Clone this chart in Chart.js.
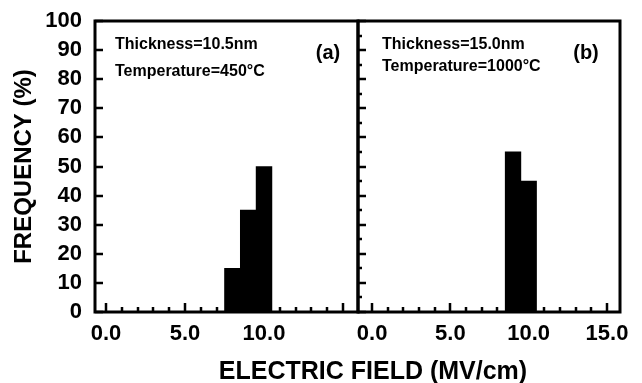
<!DOCTYPE html>
<html>
<head>
<meta charset="utf-8">
<script src="https://cdn.jsdelivr.net/npm/chart.js@4.4.1/dist/chart.umd.min.js"></script>
<style>
  body { margin: 0; background: #fff; }
  #wrap { position: relative; width: 642px; height: 383px; }
  canvas { position: absolute; left: 0; top: 0; }
  #xtitle {
    position: absolute; left: 373px; top: 356px; transform: translateX(-50%);
    font: bold 25px "Liberation Sans", Arial, sans-serif; white-space: nowrap; color: #000;
  }
</style>
</head>
<body>
<div id="wrap">
  <canvas id="chartA" width="642" height="383"></canvas>
  <canvas id="chartB" width="642" height="383"></canvas>
  <div id="xtitle">ELECTRIC FIELD (MV/cm)</div>
</div>
<script>
/* =========================
   DATI
========================= */
const fieldA = [8, 9, 10];
const freqA = [15, 35, 50];
const fieldB = [9, 10];
const freqB = [55, 45];
const xTickLabelsA = [0, 5, 10];
const xTickLabelsB = [0, 5, 10, 15];
const notesA = ["Thickness=10.5nm", "Temperature=450°C", "(a)"];
const notesB = ["Thickness=15.0nm", "Temperature=1000°C", "(b)"];

const FONT = '"Liberation Sans", Arial, sans-serif';

/* =========================
   PLUGIN: cornice, tacche interne, note
========================= */
function framePlugin(opts) {
  return {
    id: "frame",
    afterDraw(chart) {
      const { ctx, chartArea: a, scales } = chart;
      const x = scales.x, y = scales.y;
      ctx.save();
      ctx.strokeStyle = "#000";
      ctx.lineWidth = 3;
      ctx.strokeRect(a.left, a.top, a.right - a.left, a.bottom - a.top);

      // tacche interne
      ctx.lineWidth = 2.5;
      ctx.beginPath();
      for (let v = 0; v <= 100; v += 5) {
        const major = v % 10 === 0;
        if (!major && !opts.yMinor) continue;
        const py = Math.round(y.getPixelForValue(v));
        ctx.moveTo(a.left, py);
        ctx.lineTo(a.left + (major ? 8 : 4), py);
      }
      for (let v = 0; v <= 15; v++) {
        const px = Math.round(x.getPixelForValue(v));
        ctx.moveTo(px, a.bottom);
        ctx.lineTo(px, a.bottom - (v % 5 === 0 ? 9 : 5));
      }
      ctx.stroke();

      // note
      ctx.fillStyle = "#000";
      ctx.textBaseline = "middle";
      ctx.textAlign = "left";
      ctx.font = "bold 16px " + FONT;
      ctx.fillText(opts.notes[0], a.left + opts.nx, 45);
      ctx.fillText(opts.notes[1], a.left + opts.nx, opts.ty);
      ctx.font = "bold 20px " + FONT;
      ctx.textAlign = "center";
      ctx.fillText(opts.notes[2], a.left + opts.lx, 53);
      ctx.restore();
    }
  };
}

function makeChart(id, fields, freqs, xTicks, xMin, xMax, pad, showY, plugOpts) {
  return new Chart(document.getElementById(id), {
    type: "bar",
    data: {
      datasets: [{
        data: fields.map((f, i) => ({ x: f, y: freqs[i] })),
        backgroundColor: "#000",
        borderWidth: 0,
        barPercentage: 1,
        categoryPercentage: 1
      }]
    },
    options: {
      responsive: false,
      animation: false,
      devicePixelRatio: 1,
      layout: { padding: pad },
      plugins: { legend: { display: false }, tooltip: { enabled: false } },
      scales: {
        x: {
          type: "linear",
          offset: false,
          min: xMin,
          max: xMax,
          grid: { display: false, drawTicks: false },
          border: { display: false },
          afterBuildTicks: s => { s.ticks = xTicks.map(v => ({ value: v })); },
          afterFit: s => { s.height = 40; },
          ticks: {
            color: "#000",
            padding: 9,
            maxRotation: 0,
            autoSkip: false,
            font: { family: FONT, size: 22, weight: "bold" },
            callback: v => Number(v).toFixed(1)
          }
        },
        y: {
          display: showY,
          min: 0,
          max: 100,
          grid: { display: false, drawTicks: false },
          border: { display: false },
          afterFit: s => { s.width = showY ? 95 : 0; },
          ticks: {
            stepSize: 10,
            autoSkip: false,
            color: "#000",
            padding: 13,
            font: { family: FONT, size: 22, weight: "bold", lineHeight: 0.6 }
          },
          title: {
            display: true,
            text: "FREQUENCY (%)",
            color: "#000",
            padding: { top: 10 },
            font: { family: FONT, size: 24, weight: "bold" }
          }
        }
      }
    },
    plugins: [framePlugin(plugOpts)]
  });
}

/* =========================
   GRAFICI
========================= */
makeChart("chartA", fieldA, freqA, xTickLabelsA, -0.7, 15.95,
  { top: 21, bottom: 31, left: 0, right: 284 }, true,
  { notes: notesA, nx: 20, ty: 72, lx: 233, yMinor: false });

makeChart("chartB", fieldB, freqB, xTickLabelsB, -0.9, 15.83,
  { top: 21, bottom: 31, left: 358, right: 22 }, false,
  { notes: notesB, nx: 24, ty: 67, lx: 228, yMinor: true });
</script>
</body>
</html>
